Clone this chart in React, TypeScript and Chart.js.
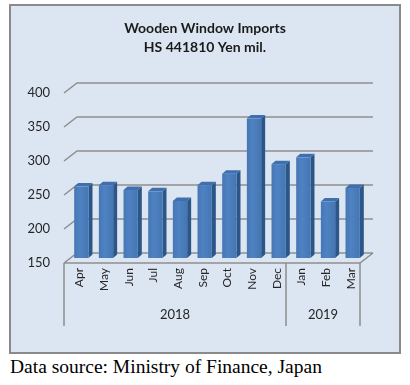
import React, { useEffect, useRef } from "react";
import { Chart, registerables } from "chart.js";

Chart.register(...registerables);

const months = ["Apr", "May", "Jun", "Jul", "Aug", "Sep", "Oct", "Nov", "Dec", "Jan", "Feb", "Mar"];
const values = [255, 257, 250, 248, 234, 257, 274, 355, 288, 298, 233, 253];
const years = ["2018", "2019"];
const yearSpans = [9, 3];
const titleLines = ["Wooden Window Imports", "HS 441810 Yen mil."];
const yMin = 150;
const yMax = 400;
const yStep = 50;
const sourceText = "Data source: Ministry of Finance, Japan";

const FONT = "Lato, 'Open Sans', sans-serif";
const GRID = "#8e8e8e";
const DX = 13; // depth offset for back wall
const DY = -10;
const BX = 5; // bar depth position
const BY = -5;
const SIDE = 4;
const RISE = 3.5;

const threeD = {
  id: "threeD",
  beforeDraw(chart: any) {
    const { ctx, width } = chart;
    ctx.save();
    ctx.fillStyle = "#dce6f2";
    ctx.fillRect(10, 5, 390, 348);
    ctx.strokeStyle = "#8a8a8a";
    ctx.lineWidth = 2;
    ctx.strokeRect(10, 5, 390, 348);
    ctx.fillStyle = "#1a1a1a";
    ctx.font = `bold 14px ${FONT}`;
    ctx.textAlign = "center";
    ctx.textBaseline = "middle";
    ctx.fillText(titleLines[0], width / 2, 28);
    ctx.fillText(titleLines[1], width / 2, 47);
    ctx.restore();
  },
  beforeDatasetsDraw(chart: any) {
    const { ctx, chartArea, scales } = chart;
    const y = scales.y;
    const L = chartArea.left;
    const R = chartArea.right;
    ctx.save();
    ctx.strokeStyle = GRID;
    ctx.lineWidth = 1.5;
    for (let v = yMin; v <= yMax; v += yStep) {
      const py = y.getPixelForValue(v);
      ctx.beginPath();
      ctx.moveTo(L, py);
      ctx.lineTo(L + DX, py + DY);
      ctx.lineTo(R + DX, py + DY);
      ctx.stroke();
    }
    // floor
    const fy = y.getPixelForValue(yMin);
    ctx.beginPath();
    ctx.moveTo(L, fy);
    ctx.lineTo(R, fy);
    ctx.lineTo(R + DX, fy + DY);
    ctx.stroke();
    // category group lines
    const cw = (R - L) / months.length;
    let idx = 0;
    const bottom = fy + 63;
    ctx.beginPath();
    ctx.moveTo(L, fy);
    ctx.lineTo(L, bottom);
    ctx.stroke();
    ctx.fillStyle = "#262626";
    ctx.font = `13px ${FONT}`;
    ctx.textAlign = "center";
    ctx.textBaseline = "middle";
    years.forEach((yr, i) => {
      const start = L + idx * cw;
      idx += yearSpans[i];
      const end = L + idx * cw;
      ctx.beginPath();
      ctx.moveTo(end, fy);
      ctx.lineTo(end, bottom);
      ctx.stroke();
      ctx.fillText(yr, (start + end) / 2, fy + 52);
    });
    ctx.restore();
  },
  afterDatasetsDraw(chart: any) {
    const { ctx, scales } = chart;
    const meta = chart.getDatasetMeta(0);
    const floor = scales.y.getPixelForValue(yMin);
    ctx.save();
    meta.data.forEach((el: any) => {
      const w = el.width;
      const x0 = el.x - w / 2 + BX;
      const x1 = el.x + w / 2 + BX;
      const top = el.y + BY;
      const base = floor + BY;
      // side
      ctx.fillStyle = "#2d5688";
      ctx.beginPath();
      ctx.moveTo(x1, base);
      ctx.lineTo(x1, top);
      ctx.lineTo(x1 + SIDE, top - RISE);
      ctx.lineTo(x1 + SIDE, base - RISE);
      ctx.closePath();
      ctx.fill();
      // top
      ctx.fillStyle = "#3f6fae";
      ctx.beginPath();
      ctx.moveTo(x0, top);
      ctx.lineTo(x1, top);
      ctx.lineTo(x1 + SIDE, top - RISE);
      ctx.lineTo(x0 + SIDE, top - RISE);
      ctx.closePath();
      ctx.fill();
      // front
      const g = ctx.createLinearGradient(x0, 0, x1, 0);
      g.addColorStop(0, "#4677b5");
      g.addColorStop(0.4, "#4f82c1");
      g.addColorStop(1, "#4476b3");
      ctx.fillStyle = g;
      ctx.fillRect(x0, top, x1 - x0, base - top);
    });
    ctx.restore();
  },
};

export default function App() {
  const ref = useRef<HTMLCanvasElement | null>(null);
  useEffect(() => {
    document.body.style.margin = "0";
    const chart = new Chart(ref.current as HTMLCanvasElement, {
      type: "bar",
      data: {
        labels: months,
        datasets: [
          {
            data: values,
            backgroundColor: "rgba(0,0,0,0)",
            borderWidth: 0,
            barPercentage: 0.58,
            categoryPercentage: 1,
          },
        ],
      },
      options: {
        animation: false,
        responsive: false,
        layout: { padding: { top: 93, left: 0, right: 50, bottom: 33 } },
        plugins: { legend: { display: false }, tooltip: { enabled: false }, title: { display: false } },
        scales: {
          x: {
            grid: { display: false, drawTicks: false },
            border: { display: false },
            ticks: {
              minRotation: 90,
              maxRotation: 90,
              autoSkip: false,
              padding: 5,
              labelOffset: 3,
              color: "#262626",
              font: { family: FONT, size: 12 },
            },
            afterFit: (s: any) => {
              s.height = 60;
            },
          },
          y: {
            min: yMin,
            max: yMax,
            grid: { display: false, drawTicks: false },
            border: { display: false },
            ticks: {
              stepSize: yStep,
              padding: 14,
              color: "#262626",
              font: { family: FONT, size: 13 },
            },
            afterFit: (s: any) => {
              s.width = 64;
            },
          },
        },
      },
      plugins: [threeD],
    });
    return () => chart.destroy();
  }, []);
  return (
    <div style={{ position: "relative", width: 410, height: 385, overflow: "hidden" }}>
      <canvas ref={ref} width={410} height={356} style={{ position: "absolute", left: 0, top: 0 }} />
      <div
        style={{
          position: "absolute",
          left: 10,
          top: 357,
          fontFamily: "'Liberation Serif', 'Times New Roman', serif",
          fontSize: 19.5,
          lineHeight: "20px",
          color: "#000",
          whiteSpace: "nowrap",
        }}
      >
        {sourceText}
      </div>
    </div>
  );
}
